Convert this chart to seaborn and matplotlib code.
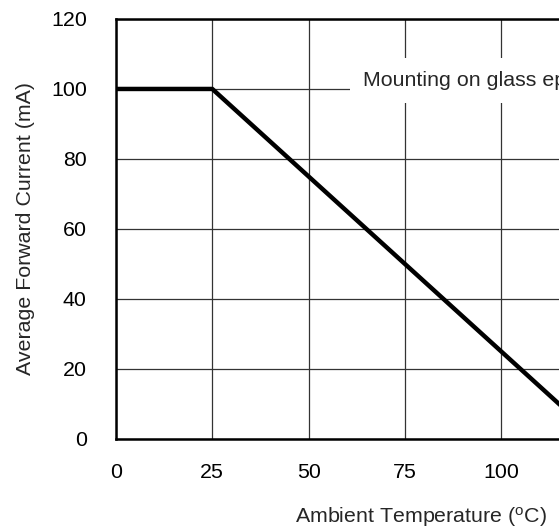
import matplotlib
matplotlib.use('Agg')
import matplotlib.pyplot as plt
import seaborn as sns
import pandas as pd

# Derating curve data
temperature = [0, 25, 125]
forward_current = [100, 100, 0]
x_ticks = [0, 25, 50, 75, 100, 125]
y_ticks = [0, 20, 40, 60, 80, 100, 120]
note = 'Mounting on glass epoxy'

df = pd.DataFrame({'Temperature': temperature, 'Current': forward_current})

sns.set_style('white')
plt.rcParams['font.family'] = ['Liberation Sans', 'DejaVu Sans']
fs = 15.4

fig = plt.figure(figsize=(5.59, 5.31), dpi=100)
# axes run past the right edge, like the cropped original
ax = fig.add_axes([0.2075, 0.1733, 0.8615, 0.791])

sns.lineplot(data=df, x='Temperature', y='Current', color='black', linewidth=3.2, ax=ax, zorder=3)

ax.set_xlim(0, 125)
ax.set_ylim(0, 120)
ax.set_xticks(x_ticks)
ax.set_yticks(y_ticks)
ax.grid(True, color='#333333', linewidth=0.9)
ax.tick_params(axis='both', length=0, labelsize=fs, colors='black')
ax.tick_params(axis='y', pad=21)
ax.tick_params(axis='x', pad=17)
for s in ax.spines.values():
    s.set_color('black')
    s.set_linewidth(1.8)

ax.set_xlabel('Ambient Temperature ($\\mathregular{^{o}}$C)', fontsize=fs)
ax.set_ylabel('Average Forward Current (mA)', fontsize=fs)
ax.xaxis.set_label_coords(0.634, -0.158)
ax.yaxis.set_label_coords(-0.168, 0.5)

ax.text(64.2, 102.4, note, fontsize=fs, va='center', ha='left', zorder=4,
        bbox=dict(boxstyle='square,pad=0.6', facecolor='white', edgecolor='none'))

fig.savefig('out.png', dpi=100)
plt.close()
